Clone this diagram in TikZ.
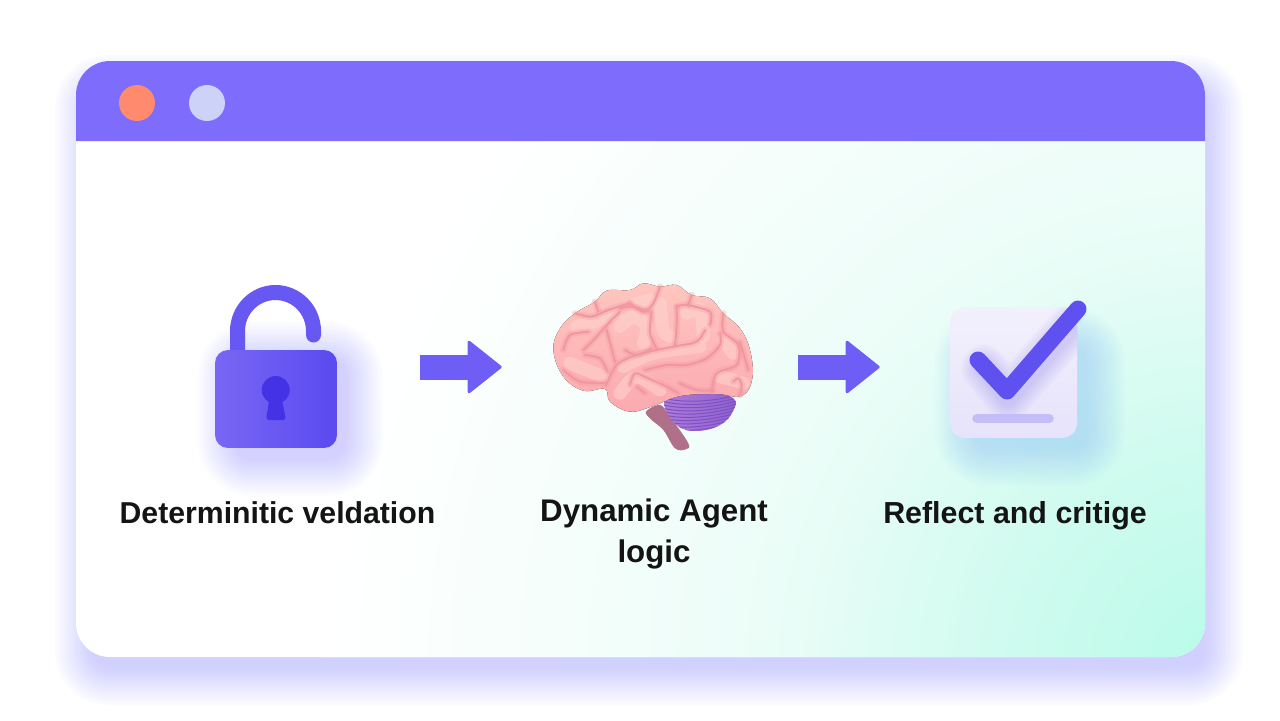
\documentclass[tikz,border=0pt]{standalone}
\usepackage{fontspec}
\setmainfont{Liberation Sans}
\usetikzlibrary{arrows.meta}
\definecolor{barviolet}{HTML}{7E6CFD}
\definecolor{flowviolet}{HTML}{6F5EF6}
\definecolor{dotorange}{HTML}{FF8A6E}
\definecolor{dotpale}{HTML}{CDD2F8}
\definecolor{cardglow}{HTML}{8F90FF}
\definecolor{mintA}{HTML}{B8FBE8}
\definecolor{mintB}{HTML}{CFFBEF}
\definecolor{mintC}{HTML}{ECFDF8}
\definecolor{lockA}{HTML}{7867F4}
\definecolor{lockB}{HTML}{5A4AF0}
\definecolor{lockshackle}{HTML}{6757F3}
\definecolor{lockhole}{HTML}{4433E6}
\definecolor{lockglow}{HTML}{5F55FF}
\definecolor{checkA}{HTML}{F3F0FD}
\definecolor{checkB}{HTML}{E6E3FB}
\definecolor{checkmark}{HTML}{5F50F0}
\definecolor{checkline}{HTML}{C3BDF8}
\definecolor{checkglow}{HTML}{8CC4F5}
\definecolor{brainA}{HTML}{FFC6BF}
\definecolor{brainB}{HTML}{FBAAB0}
\definecolor{brainfold}{HTML}{F2969F}
\definecolor{brainlight}{HTML}{FFD4CE}
\definecolor{lobeA}{HTML}{B07CD8}
\definecolor{lobeB}{HTML}{8F5FD0}
\definecolor{lobeline}{HTML}{7A52C4}
\definecolor{stemcolor}{HTML}{B0708A}
\pgfdeclareradialshading{mintglow}{\pgfpoint{0bp}{0bp}}{color(0bp)=(mintA); color(6bp)=(mintB); color(13bp)=(mintC); color(25bp)=(white); color(50bp)=(white)}
\newcommand{\softglow}[7]{%
\foreach \g in {1,...,16}{%
\pgfmathsetmacro\d{#5*\g}%
\fill[#6,fill opacity=#7,rounded corners={(14+\d)*0.02cm}] ({#1-\d},{#2-\d}) rectangle ({#3+\d},{#4+\d});}}
\tikzset{
zone/.style={minimum width=#1*0.02cm,minimum height=3.4cm,inner sep=0pt},
caption/.style={font=\bfseries\fontsize{#1}{23.3}\selectfont,align=center,text=black!92},
winbtn/.style={circle,minimum size=.72cm,inner sep=0pt},
flow/.style={flowviolet,line width=.5cm,-{Triangle[length=.7cm,width=1.1cm,round,line width=.06cm]}},
fold/.style={brainfold,line width=.04cm,line cap=round},
foldsoft/.style={brainfold,line width=.13cm,line cap=round,opacity=.3},
ridge/.style={brainlight,line width=.26cm,line cap=round,opacity=.55}
}
\begin{document}
\begin{tikzpicture}
[x=.02cm,y=-.02cm]
\path[use as bounding box,fill=white] (0,0) rectangle (1280,720);

\softglow{95}{95}{1203}{665}{2.5}{cardglow}{.029}{}
\fill[white,rounded corners=.68cm] (76,61) rectangle (1205,657);
\begin{scope}
\clip[rounded corners=.68cm] (76,61) rectangle (1205,657);
\shade[shading=mintglow] (1225,670) circle[radius=900];
\end{scope}
\fill[barviolet] (76,141) [rounded corners=.68cm] -- (76,61) -- (1205,61) [sharp corners] -- (1205,141) -- cycle;
\node[winbtn,fill=dotorange] (dot1) at (137,103) {};
\node[winbtn,fill=dotpale] (dot2) at (207,103) {};

\node[zone=290] (lock) at (275,367) {};
\node[zone=296] (brain) at (650,367) {};
\node[zone=266] (check) at (1013,367) {};

\foreach \from/\to in {lock/brain,brain/check}
\draw[flow] (\from) -- (\to);

\softglow{238}{362}{343}{456}{2.5}{lockglow}{.014}{}
\draw[lockshackle,line width=.3cm,line cap=round] (237.5,352) -- (237.5,331) .. controls (237.5,310) and (254.5,292.5) .. (275.5,292.5) .. controls (296.5,292.5) and (313.5,310) .. (313.5,331) -- (313.5,335);
\node[rounded corners=.26cm,left color=lockA,right color=lockB,minimum width=2.44cm,minimum height=1.96cm,inner sep=0pt] (lockbody) at (276,399) {};
\fill[lockhole] (275.7,390) circle[radius=14];
\fill[lockhole,rounded corners=.06cm] (270,395) -- (266,420) -- (286,420) -- (281,395) -- cycle;

\softglow{975}{348}{1085}{446}{2.5}{checkglow}{.03}{}
\node[rounded corners=.3cm,top color=checkA,bottom color=checkB,minimum width=2.54cm,minimum height=2.62cm,inner sep=0pt] (checkcard) at (1013.5,372.5) {};
\begin{scope}
\clip[rounded corners=.3cm] (950,307) rectangle (1077,438);
\foreach \w in {.36,.44,.52,.6,.68,.76,.84,.92}
\draw[checkmark,line width=\w cm,line cap=round,line join=round,opacity=.028] (984,368) -- (1008,398) -- (1072,326);
\end{scope}
\draw[checkline,line width=.19cm,line cap=round] (977,418.5) -- (1049,418.5);
\draw[checkmark,line width=.34cm,line cap=round,line join=round] (978,360) -- (1007,391) -- (1078,309);

\begin{scope}[shift={(520,270)},x=.00667cm,y=-.00667cm]
\fill[stemcolor] plot[smooth cycle,tension=.6] coordinates {(378,425) (420,405) (450,440) (505,520) (497,538) (465,535) (430,480) (395,450)};
\begin{scope}
\path[clip] plot[smooth cycle,tension=.7] coordinates {(432,400) (470,375) (560,365) (640,385) (638,425) (600,465) (530,483) (470,465)};
\shade[left color=lobeA,right color=lobeB] (420,350) rectangle (660,500);
\foreach \k in {0,...,10}
\draw[lobeline,line width=.02cm] (430,{385+\k*10}) .. controls (500,{400+\k*10}) and (580,{395+\k*9}) .. (650,{375+\k*9});
\end{scope}
\fill[top color=brainA,bottom color=brainB] plot[smooth cycle,tension=.65] coordinates {(100,240) (120,175) (165,130) (225,95) (260,62) (330,60) (370,40) (420,50) (470,45) (515,75) (570,85) (610,130) (660,175) (690,240) (697,325) (665,378) (590,372) (480,378) (400,408) (330,425) (270,395) (255,357) (190,362) (130,320)};
\foreach \p in {{(150,280) (200,300) (250,320)},{(170,170) (240,150) (290,130)},{(350,100) (390,90)},{(420,100) (430,180) (450,200)},{(500,130) (540,120) (550,200)},{(300,370) (350,320) (420,360)},{(310,290) (400,250) (540,230)},{(610,210) (640,250)},{(600,320) (640,330) (670,340)},{(300,170) (340,140) (380,170) (370,220)}}
\draw[ridge] plot[smooth] coordinates {\p};
\foreach \p in {{(130,240) (150,195) (205,185)},{(130,300) (180,335) (255,338)},{(190,240) (225,205) (265,160) (300,125)},{(165,130) (215,140) (265,120) (330,100)},{(225,95) (235,125)},{(260,180) (285,275)},{(195,255) (240,265) (262,305)},{(330,100) (370,125) (400,100) (420,50)},{(300,115) (340,110) (385,125)},{(395,125) (390,190) (410,235)},{(315,240) (350,255) (395,235)},{(470,110) (500,105) (570,125) (570,165)},{(470,110) (470,170) (465,225)},{(258,345) (290,285) (340,258) (400,242) (470,228) (530,215) (555,180)},{(375,300) (440,285) (500,285) (560,265) (600,225) (600,190)},{(330,345) (345,310) (385,325) (440,350) (475,370)},{(350,350) (375,370)},{(515,75) (505,105)},{(610,130) (610,185) (655,225) (650,285) (590,310) (575,365)},{(660,215) (685,300)},{(640,335) (655,325) (665,345) (660,375)},{(480,340) (530,360) (580,362)}}
{\draw[foldsoft] plot[smooth] coordinates {\p};
\draw[fold] plot[smooth] coordinates {\p};}
\end{scope}

\node[caption=17.2,anchor=base] (label1) at (277.5,523) {Determinitic veldation};
\node[caption=17.8] (label2) at (654,534) {Dynamic Agent\\logic};
\node[caption=17.3,anchor=base] (label3) at (1015,523) {Reflect and critige};
\end{tikzpicture}
\end{document}
